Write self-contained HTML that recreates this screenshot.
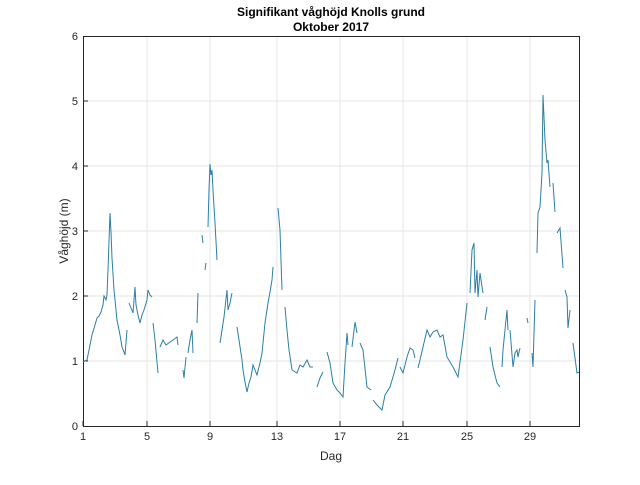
<!DOCTYPE html>
<html><head><style>body{margin:0;background:#fff}</style></head><body>
<svg width="640" height="480" xmlns="http://www.w3.org/2000/svg" font-family="Liberation Sans, Arial, sans-serif">
<rect width="640" height="480" fill="#fff"/>
<g stroke="#e6e6e6" stroke-width="1">
<line x1="147" y1="36" x2="147" y2="426"/><line x1="210" y1="36" x2="210" y2="426"/><line x1="277" y1="36" x2="277" y2="426"/><line x1="340" y1="36" x2="340" y2="426"/><line x1="403" y1="36" x2="403" y2="426"/><line x1="467" y1="36" x2="467" y2="426"/><line x1="530" y1="36" x2="530" y2="426"/>
<line x1="83" y1="361" x2="579" y2="361"/><line x1="83" y1="296" x2="579" y2="296"/><line x1="83" y1="231" x2="579" y2="231"/><line x1="83" y1="166" x2="579" y2="166"/><line x1="83" y1="101" x2="579" y2="101"/>
</g>
<rect x="83.5" y="36.5" width="496" height="390" fill="none" stroke="#262626" stroke-width="1"/>
<g stroke="#262626">
<line x1="83" y1="426" x2="83" y2="421"/><line x1="147" y1="426" x2="147" y2="421"/><line x1="210" y1="426" x2="210" y2="421"/><line x1="277" y1="426" x2="277" y2="421"/><line x1="340" y1="426" x2="340" y2="421"/><line x1="403" y1="426" x2="403" y2="421"/><line x1="467" y1="426" x2="467" y2="421"/><line x1="530" y1="426" x2="530" y2="421"/>
<line x1="83" y1="361" x2="88" y2="361"/><line x1="83" y1="296" x2="88" y2="296"/><line x1="83" y1="231" x2="88" y2="231"/><line x1="83" y1="166" x2="88" y2="166"/><line x1="83" y1="101" x2="88" y2="101"/>
</g>
<g fill="none" stroke="#2b7fa6" stroke-width="1">
<polyline points="83,362 87,360 90,345 92,335 95,325 97,318 99,316 101,312 103,305 104,296 106,300 107,295 108,270 110,213 111,232 112,258 114,290 117,320 120,335 122,347 124,352 125,355 127,330"/>
<polyline points="129,303 131,308 133,313 135,287 136,305 138,315 140,323 142,315 144,310 147,300 148,290 150,295 152,297"/>
<polyline points="153,323 155,340 158,373"/>
<polyline points="160,347 163,340 166,345 170,342 173,340 177,337 178,345"/>
<polyline points="183,370 184,378 186,357"/>
<polyline points="188,353 190,340 192,330 193,353"/>
<polyline points="197,323 198,293"/>
<polyline points="202,235 203,243"/>
<polyline points="205,270 206,263"/>
<polyline points="208,227 209,190 210,164 211,175 212,170 213,190 215,223 217,260"/>
<polyline points="220,343 222,330 224,317 227,290 228,310 230,303 232,293"/>
<polyline points="237,327 239,340 242,360 243,370 245,382 247,392 249,383 251,377 253,365 255,370 257,375 260,363 262,353 265,323 268,303 270,292 272,280 273,267"/>
<polyline points="278,208 280,230 282,290"/>
<polyline points="285,307 287,330 289,350 292,370 297,373 300,365 303,367 307,360 310,367 313,367"/>
<polyline points="317,387 320,378 323,372"/>
<polyline points="327,352 330,363 333,383 337,390 340,393 343,397 345,363 347,333 348,345"/>
<polyline points="352,347 355,322 357,333"/>
<polyline points="360,343 363,350 367,387 371,390"/>
<polyline points="373,400 377,405 382,410 385,395 390,387 395,370 398,358"/>
<polyline points="400,367 403,373 407,357 410,348 413,350 415,358"/>
<polyline points="418,368 420,360 423,347 427,330 430,337 433,332 437,330 440,337 443,335 447,357 453,367 458,377 463,340 467,303"/>
<polyline points="470,293 472,250 474,243 475,293 477,270 478,297 480,273 481,280 483,293"/>
<polyline points="485,320 487,307"/>
<polyline points="490,347 493,367 497,383 500,387"/>
<polyline points="502,367 503,350 507,310 508,330"/>
<polyline points="510,330 513,367 515,353 517,350 518,357 520,348"/>
<polyline points="527,318 528,323"/>
<polyline points="532,353 533,367 535,300"/>
<polyline points="537,253 538,213 540,207 542,173 543,95 545,140 547,163 548,160 550,187"/>
<polyline points="553,183 555,212"/>
<polyline points="557,233 560,228 563,268"/>
<polyline points="565,290 567,297 568,328 570,310"/>
<polyline points="573,343 577,373 579,372"/>
</g>
<g font-size="11" fill="#262626" text-anchor="middle">
<text x="83" y="440">1</text><text x="147" y="440">5</text><text x="210" y="440">9</text><text x="277" y="440">13</text><text x="340" y="440">17</text><text x="403" y="440">21</text><text x="467" y="440">25</text><text x="530" y="440">29</text>
</g>
<g font-size="11" fill="#262626" text-anchor="end">
<text x="78" y="430">0</text><text x="78" y="365">1</text><text x="78" y="300">2</text><text x="78" y="235">3</text><text x="78" y="170">4</text><text x="78" y="105">5</text><text x="78" y="40">6</text>
</g>
<text x="331" y="460" font-size="12" text-anchor="middle" fill="#262626">Dag</text>
<text transform="translate(68,231) rotate(-90)" font-size="12" text-anchor="middle" fill="#262626">Våghöjd (m)</text>
<text x="331" y="16" font-size="12" font-weight="bold" text-anchor="middle" fill="#000">Signifikant våghöjd Knolls grund</text>
<text x="331" y="31" font-size="12" font-weight="bold" text-anchor="middle" fill="#000">Oktober 2017</text>
</svg>
</body></html>
